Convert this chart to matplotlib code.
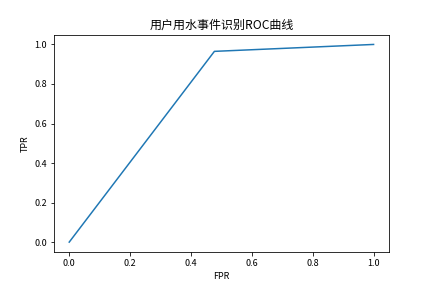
import matplotlib
matplotlib.use("Agg")
import matplotlib.pyplot as plt

fpr = [0.0, 0.477, 1.0]
tpr = [0.0, 0.965, 1.0]

plt.rcParams['font.family'] = ['Noto Sans CJK SC', 'DejaVu Sans']
plt.rcParams['axes.unicode_minus'] = False

fig, ax = plt.subplots(figsize=(6, 4), dpi=72)
fig.subplots_adjust(left=0.125, right=0.9, bottom=0.125, top=0.88)
ax.plot(fpr, tpr)
ax.set_xlabel('FPR', fontsize=9)
ax.set_ylabel('TPR', fontsize=9)
ax.set_title('用户用水事件识别ROC曲线')
ax.tick_params(labelsize=9)
fig.savefig('out.png', dpi=72)
